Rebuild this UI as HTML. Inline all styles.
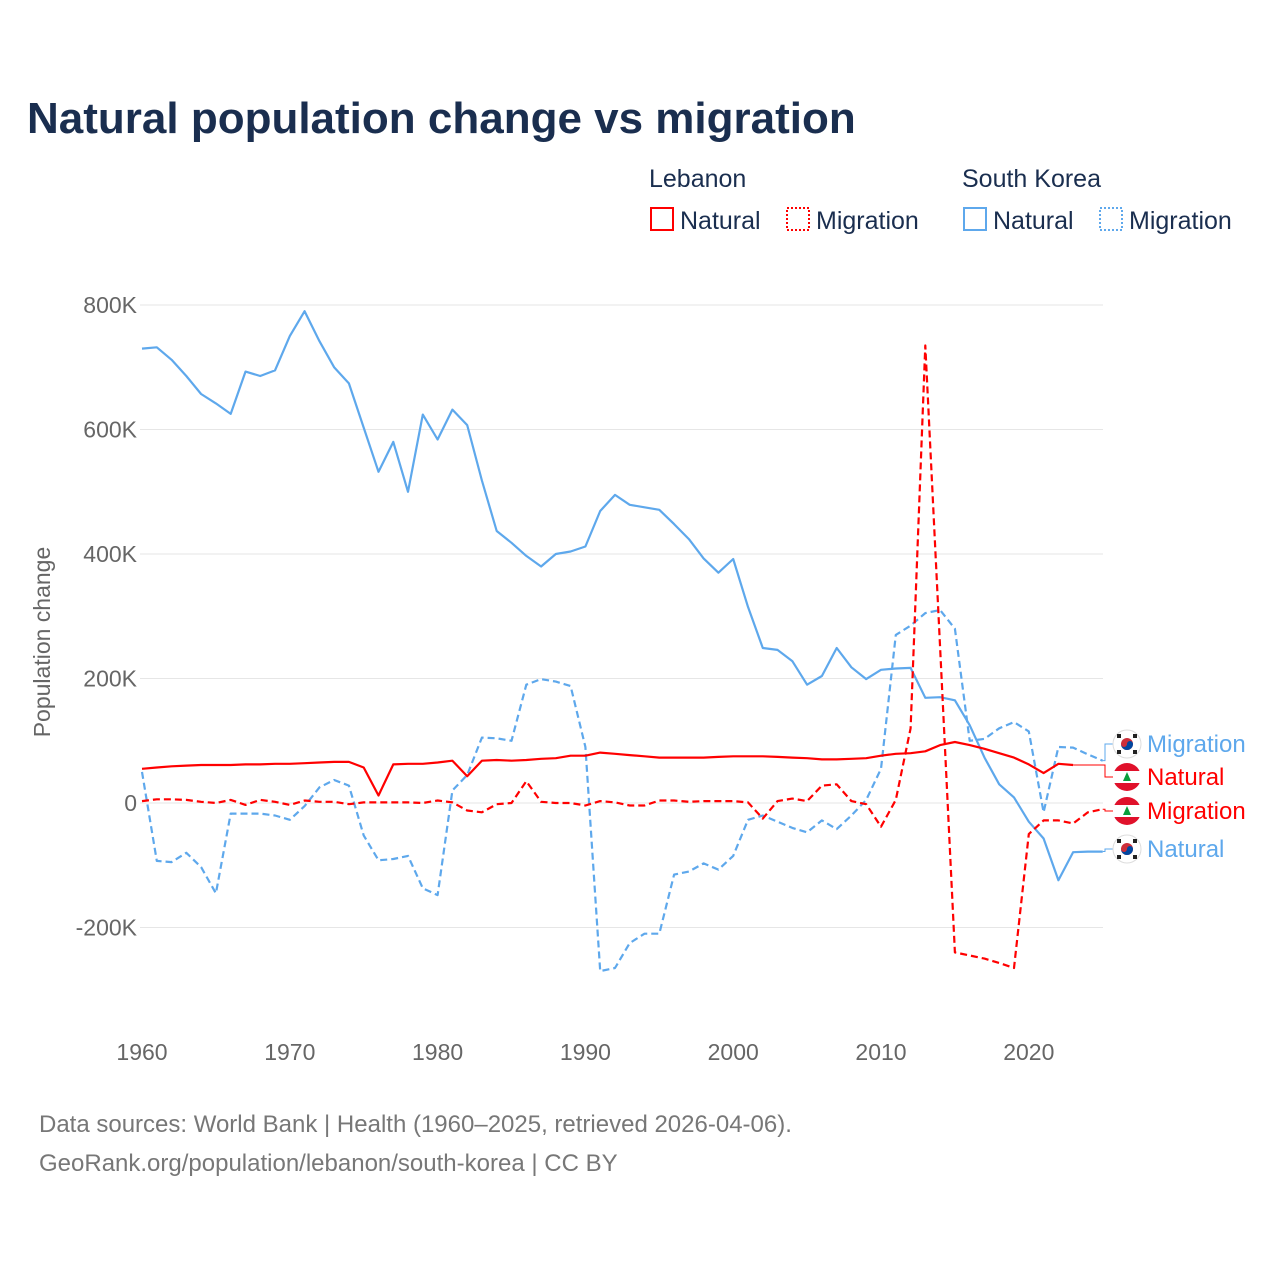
<!DOCTYPE html>
<html><head><meta charset="utf-8"><style>
body{margin:0;background:#fff;font-family:"Liberation Sans",sans-serif}
svg text{font-family:"Liberation Sans",sans-serif}
</style></head><body>
<svg width="1280" height="1280" viewBox="0 0 1280 1280">
<text x="27" y="133" font-size="44" font-weight="bold" fill="#1a2e4f">Natural population change vs migration</text>
<g font-size="25" fill="#1a2e4f">
<text x="649" y="187">Lebanon</text>
<text x="962" y="187">South Korea</text>
<g><rect x="651" y="208" width="22" height="22" fill="none" stroke="#ff0000" stroke-width="2"/><text x="680" y="229">Natural</text></g>
<g><rect x="787" y="208" width="22" height="22" fill="none" stroke="#ff0000" stroke-width="2" stroke-dasharray="2,2"/><text x="816" y="229">Migration</text></g>
<g><rect x="964" y="208" width="22" height="22" fill="none" stroke="#5ea8ec" stroke-width="2"/><text x="993" y="229">Natural</text></g>
<g><rect x="1100" y="208" width="22" height="22" fill="none" stroke="#5ea8ec" stroke-width="2" stroke-dasharray="2,2"/><text x="1129" y="229">Migration</text></g>
</g>
<text transform="translate(50,642) rotate(-90)" text-anchor="middle" font-size="23" fill="#666">Population change</text>
<g id="grid"></g><g id="series"></g><g id="labels"></g>
<text x="39" y="1132" font-size="24" fill="#777">Data sources: World Bank | Health (1960–2025, retrieved 2026-04-06).</text>
<text x="39" y="1171" font-size="24" fill="#777">GeoRank.org/population/lebanon/south-korea | CC BY</text>
</svg>
<script>
const years=[];for(let y=1960;y<=2025;y++)years.push(y);
const yTicks=[-200,0,200,400,600,800];
const yTickLabels=["-200K","0","200K","400K","600K","800K"];
const xTicks=[1960,1970,1980,1990,2000,2010,2020];
const krNatural=[730,732,712,686,657,642,625,693,686,695,750,790,742,700,674,603,532,580,500,624,584,632,607,518,437,418,397,380,400,404,412,469,495,479,475,471,448,424,393,370,392,315,249,246,228,190,204,249,218,199,214,216,217,169,170,165,125,73,30,9,-30,-57,-124,-79,-78,-78];
const krMigration=[50,-93,-95,-80,-103,-145,-17,-17,-17,-20,-27,-5,25,37,28,-52,-92,-90,-85,-137,-148,20,45,105,104,100,190,199,195,188,90,-270,-265,-225,-210,-210,-115,-110,-97,-107,-85,-27,-20,-30,-40,-47,-28,-42,-20,5,55,270,285,305,310,280,100,103,120,130,115,-15,90,89,78,68];
const lbNatural=[55,57,59,60,61,61,61,62,62,63,63,64,65,66,66,57,12,62,63,63,65,68,43,68,69,68,69,71,72,76,76,81,79,77,75,73,73,73,73,74,75,75,75,74,73,72,70,70,71,72,76,79,80,83,93,98,93,87,80,73,62,48,63,61];
const lbMigration=[3,6,6,5,2,0,5,-3,5,2,-3,4,2,2,-2,1,1,1,1,0,4,1,-12,-15,-2,0,35,2,0,0,-4,3,1,-4,-4,4,4,2,3,3,3,1,-25,3,7,3,28,30,3,-2,-38,5,120,735,250,-240,-245,-250,-257,-265,-50,-28,-28,-33,-15,-10];
const X=y=>142+(y-1960)*14.78;
const Y=v=>803-v*0.6225;
const NS="http://www.w3.org/2000/svg";
function mk(t,a,p){const e=document.createElementNS(NS,t);for(const k in a)e.setAttribute(k,a[k]);p.appendChild(e);return e;}
const grid=document.getElementById('grid');
yTicks.forEach((v,i)=>{
 const l=mk('line',{x1:140,x2:1103,y1:Y(v),y2:Y(v),stroke:'#e6e6e6','stroke-width':1},grid);
 
 
 const t=mk('text',{x:137,y:Y(v)+8,'text-anchor':'end','font-size':23,fill:'#666'},grid);t.textContent=yTickLabels[i];
 
 
});
xTicks.forEach(v=>{
 const t=mk('text',{x:X(v),y:1060,'text-anchor':'middle','font-size':23,fill:'#666'},grid);t.textContent=v;
 
 
});
const ser=document.getElementById('series');
function line(data,color,dash,name){
 const d=data.map((v,i)=>(i?'L':'M')+X(years[i]).toFixed(1)+','+Y(v).toFixed(1)).join('');
 const p=mk('path',{d:d,fill:'none',stroke:color,'stroke-width':2.2,'stroke-dasharray':dash||'none','stroke-linejoin':'round'},ser);
 
 
}
line(krNatural,'#5ea8ec','', 'line-korea-natural');
line(krMigration,'#5ea8ec','7,4','line-korea-migration');
line(lbNatural,'#ff0000','','line-lebanon-natural');
line(lbMigration,'#ff0000','7,4','line-lebanon-migration');
const lab=document.getElementById('labels');
function endLabel(endY,labY,color,text,flag,name){
 const x0=X(years[0]+ (name.includes('lebanon-natural')?63:65));
 mk('polyline',{points:`${x0},${endY} ${x0+(flag==='lb'&&name.includes('natural')?0:0)},${endY} 1105,${endY} 1105,${labY} 1113,${labY}`,fill:'none',stroke:color,'stroke-width':1},lab);
 const g=mk('g',{},lab);
 
 
 if(flag==='lb'){
  mk('circle',{cx:1127,cy:labY,r:14,fill:'#e0112b'},g);
  mk('rect',{x:1113,y:labY-6,width:28,height:12,fill:'#fff'},g);
  mk('path',{d:`M1127,${labY-5} L1123,${labY+4} L1131,${labY+4}Z`,fill:'#0a9e3b'},g);
 } else {
  mk('circle',{cx:1127,cy:labY,r:14,fill:'#fff',stroke:'#ddd'},g);
  mk('circle',{cx:1127,cy:labY,r:6,fill:'#cd2e3a'},g);
  mk('path',{d:`M1121,${labY} A6,6 0 0,0 1133,${labY} A3,3 0 0,0 1127,${labY} A3,3 0 0,1 1121,${labY}Z`,fill:'#0047a0'},g);
  [[-8,-8],[8,-8],[-8,8],[8,8]].forEach(([dx,dy])=>mk('rect',{x:1127+dx-2,y:labY+dy-2,width:4,height:4,fill:'#222'},g));
 }
 const t=mk('text',{x:1147,y:labY+8,'font-size':24,fill:color},g);t.textContent=text;
}
endLabel(Y(68),744,'#5ea8ec','Migration','kr','label-korea-migration');
endLabel(Y(61),777,'#ff0000','Natural','lb','label-lebanon-natural');
endLabel(Y(-10),811,'#ff0000','Migration','lb','label-lebanon-migration');
endLabel(Y(-78),849,'#5ea8ec','Natural','kr','label-korea-natural');
</script>
</body></html>
